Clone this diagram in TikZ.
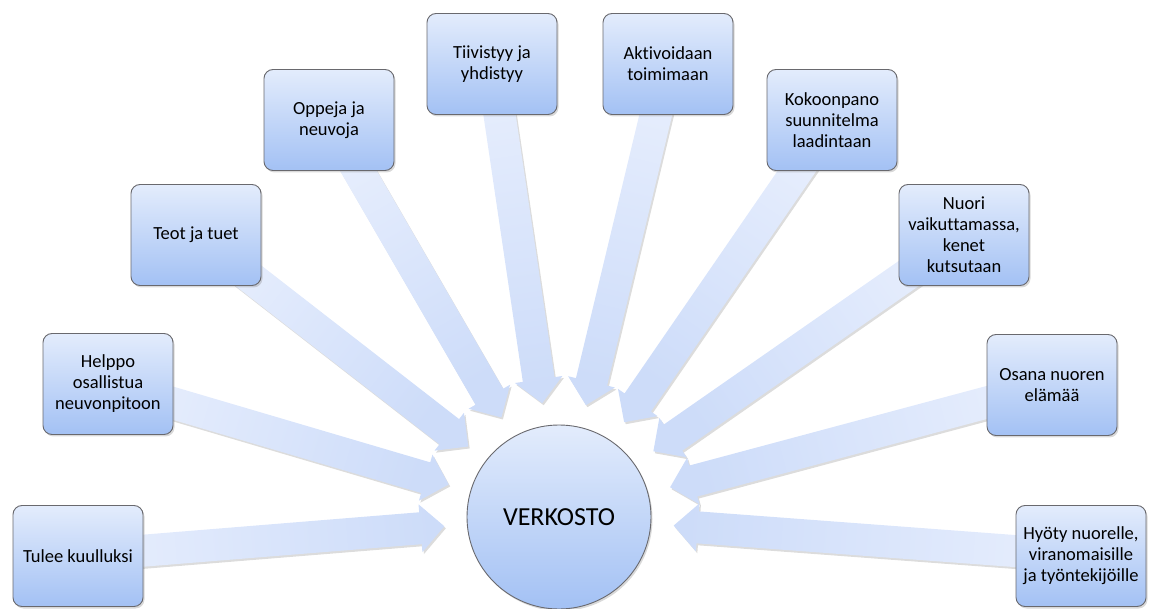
\documentclass[tikz,border=0pt]{standalone}
\usepackage{fontspec}
\setmainfont{Carlito}[Ligatures=NoCommon]
\usetikzlibrary{calc,shadows}
\pgfdeclarelayer{bg}
\pgfsetlayers{bg,main}
\definecolor{boxTop}{RGB}{227,236,252}
\definecolor{boxBot}{RGB}{163,193,244}
\definecolor{arrL}{RGB}{231,238,253}
\definecolor{arrD}{RGB}{205,220,249}
\definecolor{bordergrey}{RGB}{105,105,110}
\begin{document}
\begin{tikzpicture}[x=1pt,y=-1pt,
  box/.style={rectangle, rounded corners=9pt, minimum width=130pt, minimum height=101pt,
    inner sep=2pt, draw=bordergrey, line width=0.9pt, top color=boxTop, bottom color=boxBot,
    align=center, font=\fontsize{18.5}{21}\selectfont,
    drop shadow={shadow xshift=1.5pt, shadow yshift=-2pt, opacity=0.3}},
  hubstyle/.style={circle, minimum size=184pt, inner sep=0pt, draw=bordergrey, line width=0.9pt,
    top color=boxTop, bottom color=boxBot, font=\fontsize{26}{30}\selectfont,
    drop shadow={shadow xshift=1.5pt, shadow yshift=-2pt, opacity=0.3}},
  arrowbody/.style={top color=arrL, bottom color=arrD,
    drop shadow={shadow xshift=1.5pt, shadow yshift=-2pt, opacity=0.28}}]
\useasboundingbox (0,0) rectangle (1149,609);
\node[hubstyle] (hub) at (559,517) {VERKOSTO};
\node[box] (b1) at (78,556) {Tulee kuulluksi};
\node[box] (b2) at (108,384) {Helppo\\osallistua\\neuvonpitoon};
\node[box] (b3) at (196,235) {Teot ja tuet};
\node[box] (b4) at (329,120) {Oppeja ja\\neuvoja};
\node[box] (b5) at (492,64) {Tiivistyy ja\\yhdistyy};
\node[box] (b6) at (668,64) {Aktivoidaan\\toimimaan};
\node[box] (b7) at (832,120) {Kokoonpano\\suunnitelma\\laadintaan};
\node[box] (b8) at (964,235) {Nuori\\vaikuttamassa,\\kenet\\kutsutaan};
\node[box] (b9) at (1052,385) {Osana nuoren\\elämää};
\node[box] (b10) at (1081,556) {Hyöty nuorelle,\\viranomaisille\\ja työntekijöille};
\begin{pgfonlayer}{bg}
\foreach \i in {1,...,10}{
  \path let \p1=(b\i.center), \p2=(hub.center),
    \n1={atan2((\y2)-(\y1),(\x2)-(\x1))} in
    \pgfextra{\pgfmathparse{\n1+90}\xdef\arrang{\pgfmathresult}};
  \coordinate (T) at ($(hub.center)!115pt!(b\i.center)$);
  \coordinate (B) at ($(T)!24pt!(b\i.center)$);
  \path[arrowbody, shading angle=\arrang]
    ($(b\i.center)!16pt!90:(T)$) -- ($(B)!16pt!90:(T)$) -- ($(B)!24pt!90:(T)$)
    -- (T) -- ($(B)!24pt!-90:(T)$) -- ($(B)!16pt!-90:(T)$)
    -- ($(b\i.center)!16pt!-90:(T)$) -- cycle;
}
\end{pgfonlayer}
\end{tikzpicture}
\end{document}
